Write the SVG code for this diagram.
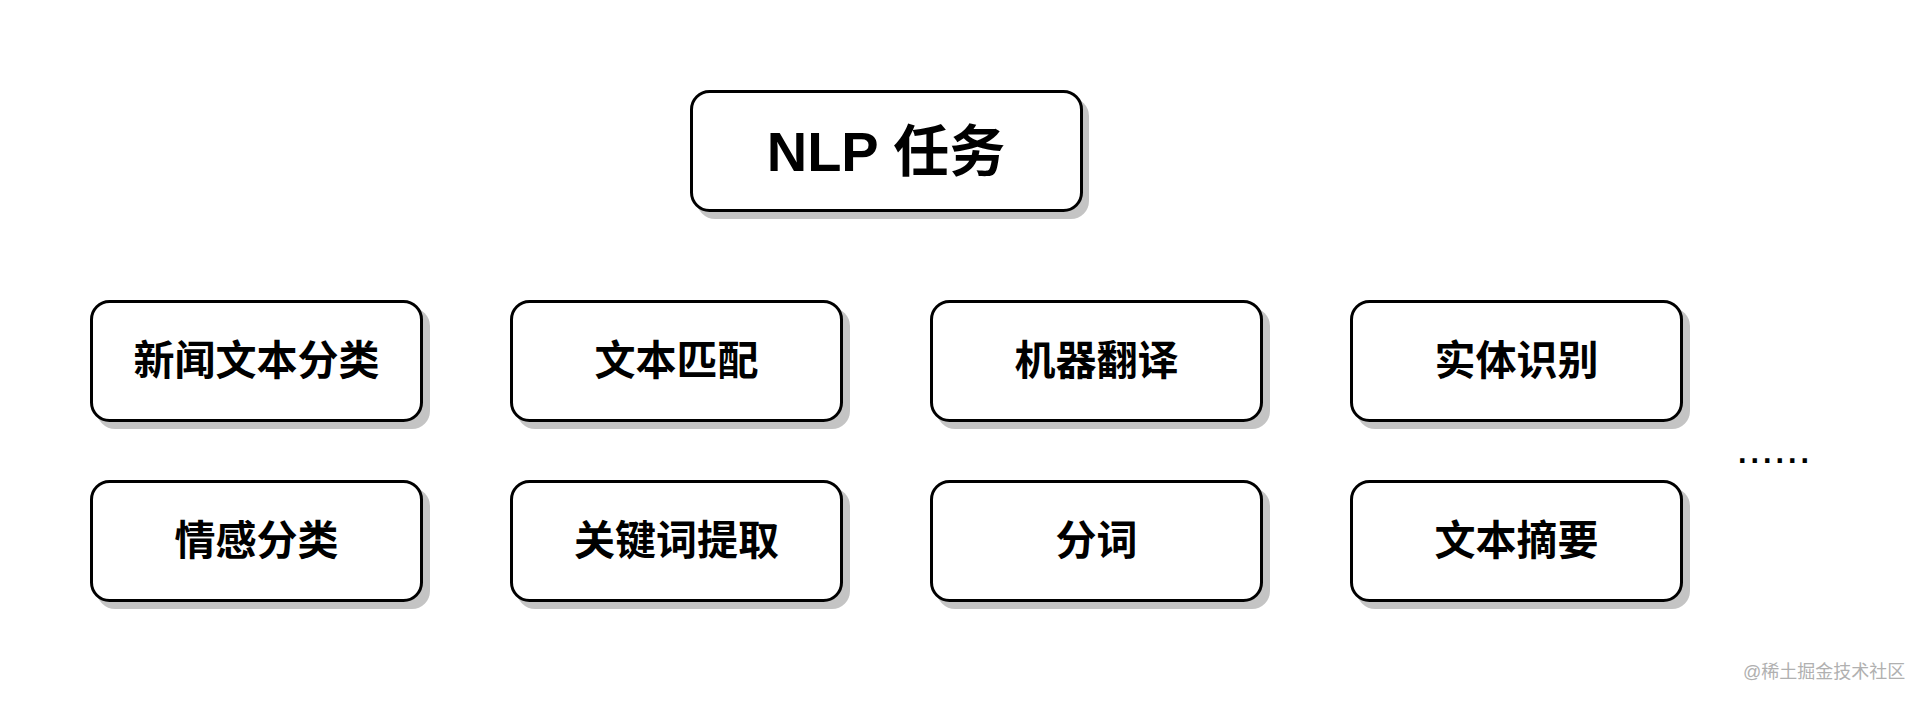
<svg xmlns="http://www.w3.org/2000/svg" width="1923" height="702" viewBox="0 0 1923 702">
<style>
.shadow{fill:#c4c4c4;stroke:none}
.box{fill:#ffffff;stroke:#000000;stroke-width:3}
.lbl{font-family:"Liberation Sans","Noto Sans CJK SC",sans-serif;font-weight:bold;font-size:41px;fill:#000;text-anchor:middle;dominant-baseline:central}
.title{font-size:56px}
.dots{font-family:"Liberation Sans",sans-serif;font-size:45px;fill:#000}
.wm{font-family:"Liberation Sans","Noto Sans CJK SC",sans-serif;font-size:18px;fill:#b0b0b0}
</style>
<rect width="1923" height="702" fill="#ffffff"/>
<g id="connectors"></g>
<g id="n-nlp"><rect class="shadow" x="697" y="98" width="392" height="121" rx="18"/><rect class="box" x="691.5" y="91.5" width="390" height="119" rx="18"/><text class="lbl title" x="886" y="151">NLP 任务</text></g>
<g id="n1"><rect class="shadow" x="97" y="308" width="333" height="121" rx="18"/><rect class="box" x="91.5" y="301.5" width="330" height="119" rx="18"/><text class="lbl" x="256.5" y="361">新闻文本分类</text></g>
<g id="n2"><rect class="shadow" x="517" y="308" width="333" height="121" rx="18"/><rect class="box" x="511.5" y="301.5" width="330" height="119" rx="18"/><text class="lbl" x="676.5" y="361">文本匹配</text></g>
<g id="n3"><rect class="shadow" x="937" y="308" width="333" height="121" rx="18"/><rect class="box" x="931.5" y="301.5" width="330" height="119" rx="18"/><text class="lbl" x="1096.5" y="361">机器翻译</text></g>
<g id="n4"><rect class="shadow" x="1357" y="308" width="333" height="121" rx="18"/><rect class="box" x="1351.5" y="301.5" width="330" height="119" rx="18"/><text class="lbl" x="1516.5" y="361">实体识别</text></g>
<g id="n5"><rect class="shadow" x="97" y="488" width="333" height="121" rx="18"/><rect class="box" x="91.5" y="481.5" width="330" height="119" rx="18"/><text class="lbl" x="256.5" y="541">情感分类</text></g>
<g id="n6"><rect class="shadow" x="517" y="488" width="333" height="121" rx="18"/><rect class="box" x="511.5" y="481.5" width="330" height="119" rx="18"/><text class="lbl" x="676.5" y="541">关键词提取</text></g>
<g id="n7"><rect class="shadow" x="937" y="488" width="333" height="121" rx="18"/><rect class="box" x="931.5" y="481.5" width="330" height="119" rx="18"/><text class="lbl" x="1096.5" y="541">分词</text></g>
<g id="n8"><rect class="shadow" x="1357" y="488" width="333" height="121" rx="18"/><rect class="box" x="1351.5" y="481.5" width="330" height="119" rx="18"/><text class="lbl" x="1516.5" y="541">文本摘要</text></g>
<text class="dots" x="1736" y="463">......</text>
<text class="wm" x="1743" y="678">@稀土掘金技术社区</text>
</svg>
